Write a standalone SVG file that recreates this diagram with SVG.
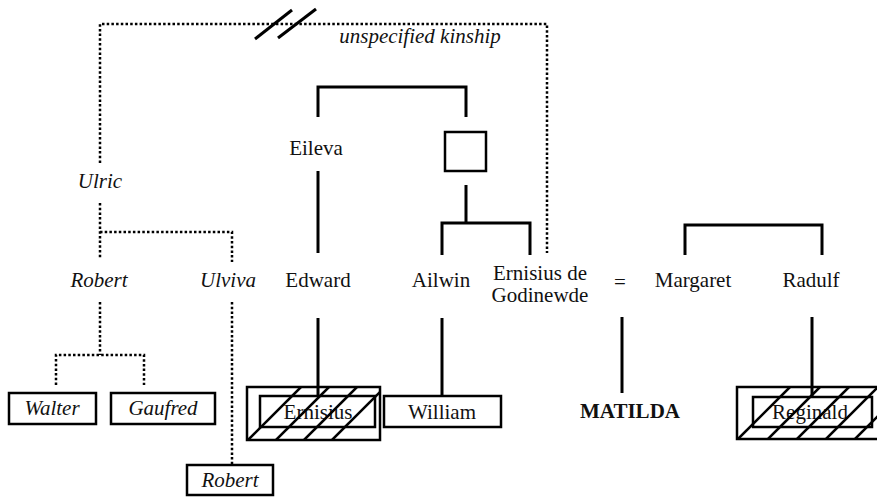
<svg xmlns="http://www.w3.org/2000/svg" width="877" height="497" viewBox="0 0 877 497">
<style>
text{font-family:'Liberation Serif','DejaVu Serif',serif;font-size:21px;fill:#111;text-anchor:middle}
.it{font-style:italic}
.b{font-weight:bold}
.solid{fill:none;stroke:#000;stroke-width:3}
.dot{fill:none;stroke:#000;stroke-width:2.5;stroke-dasharray:2.5 2.2}
.box{fill:#fff;stroke:#000;stroke-width:2.5}
.hbox{fill:none;stroke:#000;stroke-width:2.5}
.hatch{stroke:#000;stroke-width:2.5}
</style>
<defs>
<clipPath id="c1"><rect x="247" y="387" width="133" height="53"/></clipPath>
<clipPath id="c2"><rect x="737" y="387" width="150" height="52"/></clipPath>
</defs>
<rect width="877" height="497" fill="#fff"/>
<g id="connectors">
<path class="dot" d="M100,163 V24 H547 V253"/>
<line class="solid" x1="255" y1="39" x2="292" y2="10" stroke-width="2.5"/>
<line class="solid" x1="278" y1="38" x2="316" y2="9" stroke-width="2.5"/>
<path class="dot" d="M100,203 V259 M100,232 H232 V262"/>
<path class="dot" d="M100,302 V355 M56,385 V355 H144 V385"/>
<path class="dot" d="M232,302 V465"/>
<path class="solid" d="M318,117 V87 H466 V117"/>
<path class="solid" d="M318,171 V253"/>
<path class="solid" d="M466,185 V223 M442,255 V223 H530 V255"/>
<path class="solid" d="M685,255 V225 H822 V255"/>
<path class="solid" d="M318,318 V396"/>
<path class="solid" d="M442,318 V396"/>
<path class="solid" d="M622,317 V393"/>
<path class="solid" d="M812,317 V397"/>
</g>
<g id="kinship-label"><text class="it" x="420" y="43">unspecified kinship</text></g>
<g id="ulric"><text class="it" x="100" y="188">Ulric</text></g>
<g id="eileva"><text x="316" y="155">Eileva</text></g>
<g id="unknown"><rect class="box" x="445" y="132" width="41" height="39"/></g>
<g id="robert1"><text class="it" x="99" y="287">Robert</text></g>
<g id="ulviva"><text class="it" x="228" y="287">Ulviva</text></g>
<g id="edward"><text x="318" y="287">Edward</text></g>
<g id="ailwin"><text x="441" y="287">Ailwin</text></g>
<g id="ernisius-de-godinewde"><text x="540" y="280">Ernisius de</text><text x="540" y="302">Godinewde</text></g>
<g id="marriage"><text x="620" y="289">=</text></g>
<g id="margaret"><text x="693" y="287">Margaret</text></g>
<g id="radulf"><text x="811" y="287">Radulf</text></g>
<g id="walter"><rect class="box" x="9" y="393" width="87" height="31"/><text class="it" x="52" y="415">Walter</text></g>
<g id="gaufred"><rect class="box" x="111" y="393" width="104" height="31"/><text class="it" x="163" y="415">Gaufred</text></g>
<g id="robert2"><rect class="box" x="187" y="465" width="86" height="30"/><text class="it" x="230" y="487">Robert</text></g>
<g id="ernisius">
<rect class="hbox" x="247" y="387" width="133" height="53"/>
<rect class="hbox" x="260" y="396" width="115" height="31"/>
<text x="318" y="419">Ernisius</text>
<g clip-path="url(#c1)">
<line class="hatch" x1="248" y1="440" x2="301" y2="387"/>
<line class="hatch" x1="276" y1="440" x2="329" y2="387"/>
<line class="hatch" x1="304" y1="440" x2="357" y2="387"/>
<line class="hatch" x1="332" y1="440" x2="385" y2="387"/>
</g>
</g>
<g id="william"><rect class="box" x="384" y="396" width="117" height="31"/><text x="442" y="419">William</text></g>
<g id="matilda"><text class="b" x="630" y="418">MATILDA</text></g>
<g id="reginald">
<rect class="hbox" x="737" y="387" width="150" height="52"/>
<rect class="hbox" x="753" y="397" width="119" height="30"/>
<text x="810" y="419">Reginald</text>
<g clip-path="url(#c2)">
<line class="hatch" x1="738" y1="439" x2="790" y2="387"/>
<line class="hatch" x1="768" y1="439" x2="820" y2="387"/>
<line class="hatch" x1="797" y1="439" x2="849" y2="387"/>
<line class="hatch" x1="826" y1="439" x2="878" y2="387"/>
<line class="hatch" x1="855" y1="439" x2="907" y2="387"/>
</g>
</g>
</svg>
